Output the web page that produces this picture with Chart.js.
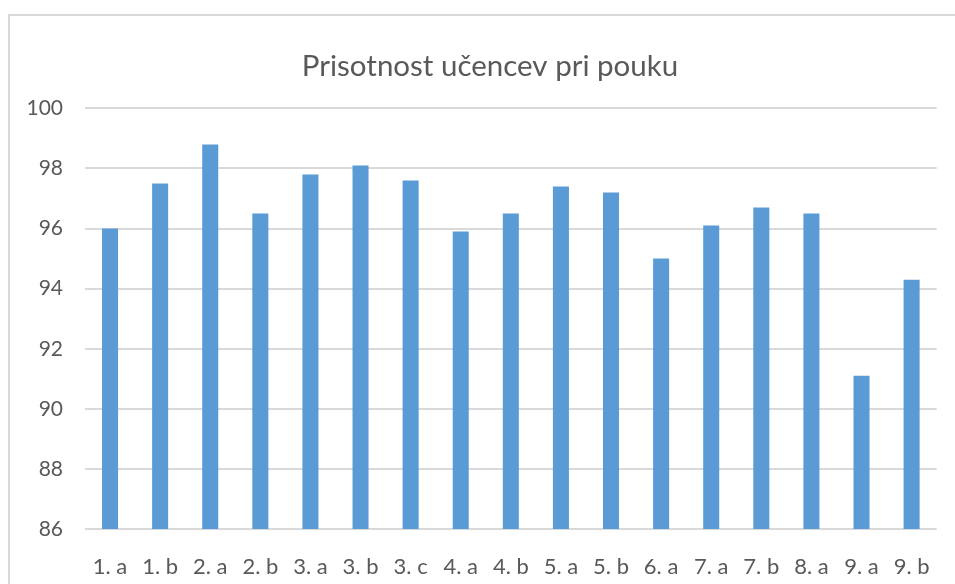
<!DOCTYPE html>
<html lang="sl">
<head>
    <meta charset="UTF-8">
    <title>Prisotnost učencev pri pouku</title>
    <script src="https://cdn.jsdelivr.net/npm/chart.js"></script>
    <style>
        html, body { margin: 0; padding: 0; background: #fff; }
        #wrap { position: relative; width: 955px; height: 584px; overflow: hidden; }
        #frame { position: absolute; left: 8px; top: 14px; width: 960px; height: 600px;
                 border: 2px solid #d9d9d9; box-sizing: border-box; }
        canvas { position: absolute; left: 0; top: 0; }
    </style>
</head>
<body>
    <div id="wrap">
        <div id="frame"></div>
        <canvas id="prisotnost" width="955" height="584"></canvas>
    </div>
    <script>
    // oddelki in odstotek prisotnosti
    const oddelki = ['1. a', '1. b', '2. a', '2. b', '3. a', '3. b', '3. c', '4. a', '4. b',
                     '5. a', '5. b', '6. a', '7. a', '7. b', '8. a', '9. a', '9. b'];
    const prisotnost = [96.0, 97.5, 98.8, 96.5, 97.8, 98.1, 97.6, 95.9, 96.5,
                        97.4, 97.2, 95.0, 96.1, 96.7, 96.5, 91.1, 94.3];
    const yMin = 86, yMax = 100, yKorak = 2;

    const pisava = 'Lato, "Open Sans", sans-serif';
    const siva = '#595959';

    // oznake osi y naj se ne odrežejo na levem robu
    const razsiriOsY = {
        id: 'razsiriOsY',
        afterLayout(chart) { chart.scales.y.left = 0; }
    };

    const ctx = document.getElementById('prisotnost').getContext('2d');
    new Chart(ctx, {
        type: 'bar',
        data: {
            labels: oddelki,
            datasets: [{
                data: prisotnost,
                backgroundColor: '#5b9bd5',
                categoryPercentage: 1.0,
                barPercentage: 0.32
            }]
        },
        options: {
            responsive: false,
            animation: false,
            // levi odmik premakne naslov na sredino okvirja
            layout: { padding: { top: 14, right: 15, left: 40, bottom: 0 } },
            plugins: {
                legend: { display: false },
                tooltip: { enabled: false },
                title: {
                    display: true,
                    text: 'Prisotnost učencev pri pouku',
                    color: siva,
                    font: { family: pisava, size: 29.5, weight: 'normal' },
                    padding: { top: 35, bottom: 24 }
                }
            },
            scales: {
                x: {
                    grid: { display: false, drawTicks: false },
                    border: { display: false },
                    ticks: { color: siva, font: { family: pisava, size: 22 }, padding: 25, maxRotation: 0 },
                    afterFit: s => { s.height = 55; }
                },
                y: {
                    min: yMin, max: yMax,
                    grid: { color: '#d9d9d9', lineWidth: 2, drawTicks: false },
                    border: { display: false },
                    ticks: { stepSize: yKorak, color: siva, font: { family: pisava, size: 21 }, padding: 22 },
                    afterFit: s => { s.width = 45; }
                }
            }
        },
        plugins: [razsiriOsY]
    });
    </script>
</body>
</html>
